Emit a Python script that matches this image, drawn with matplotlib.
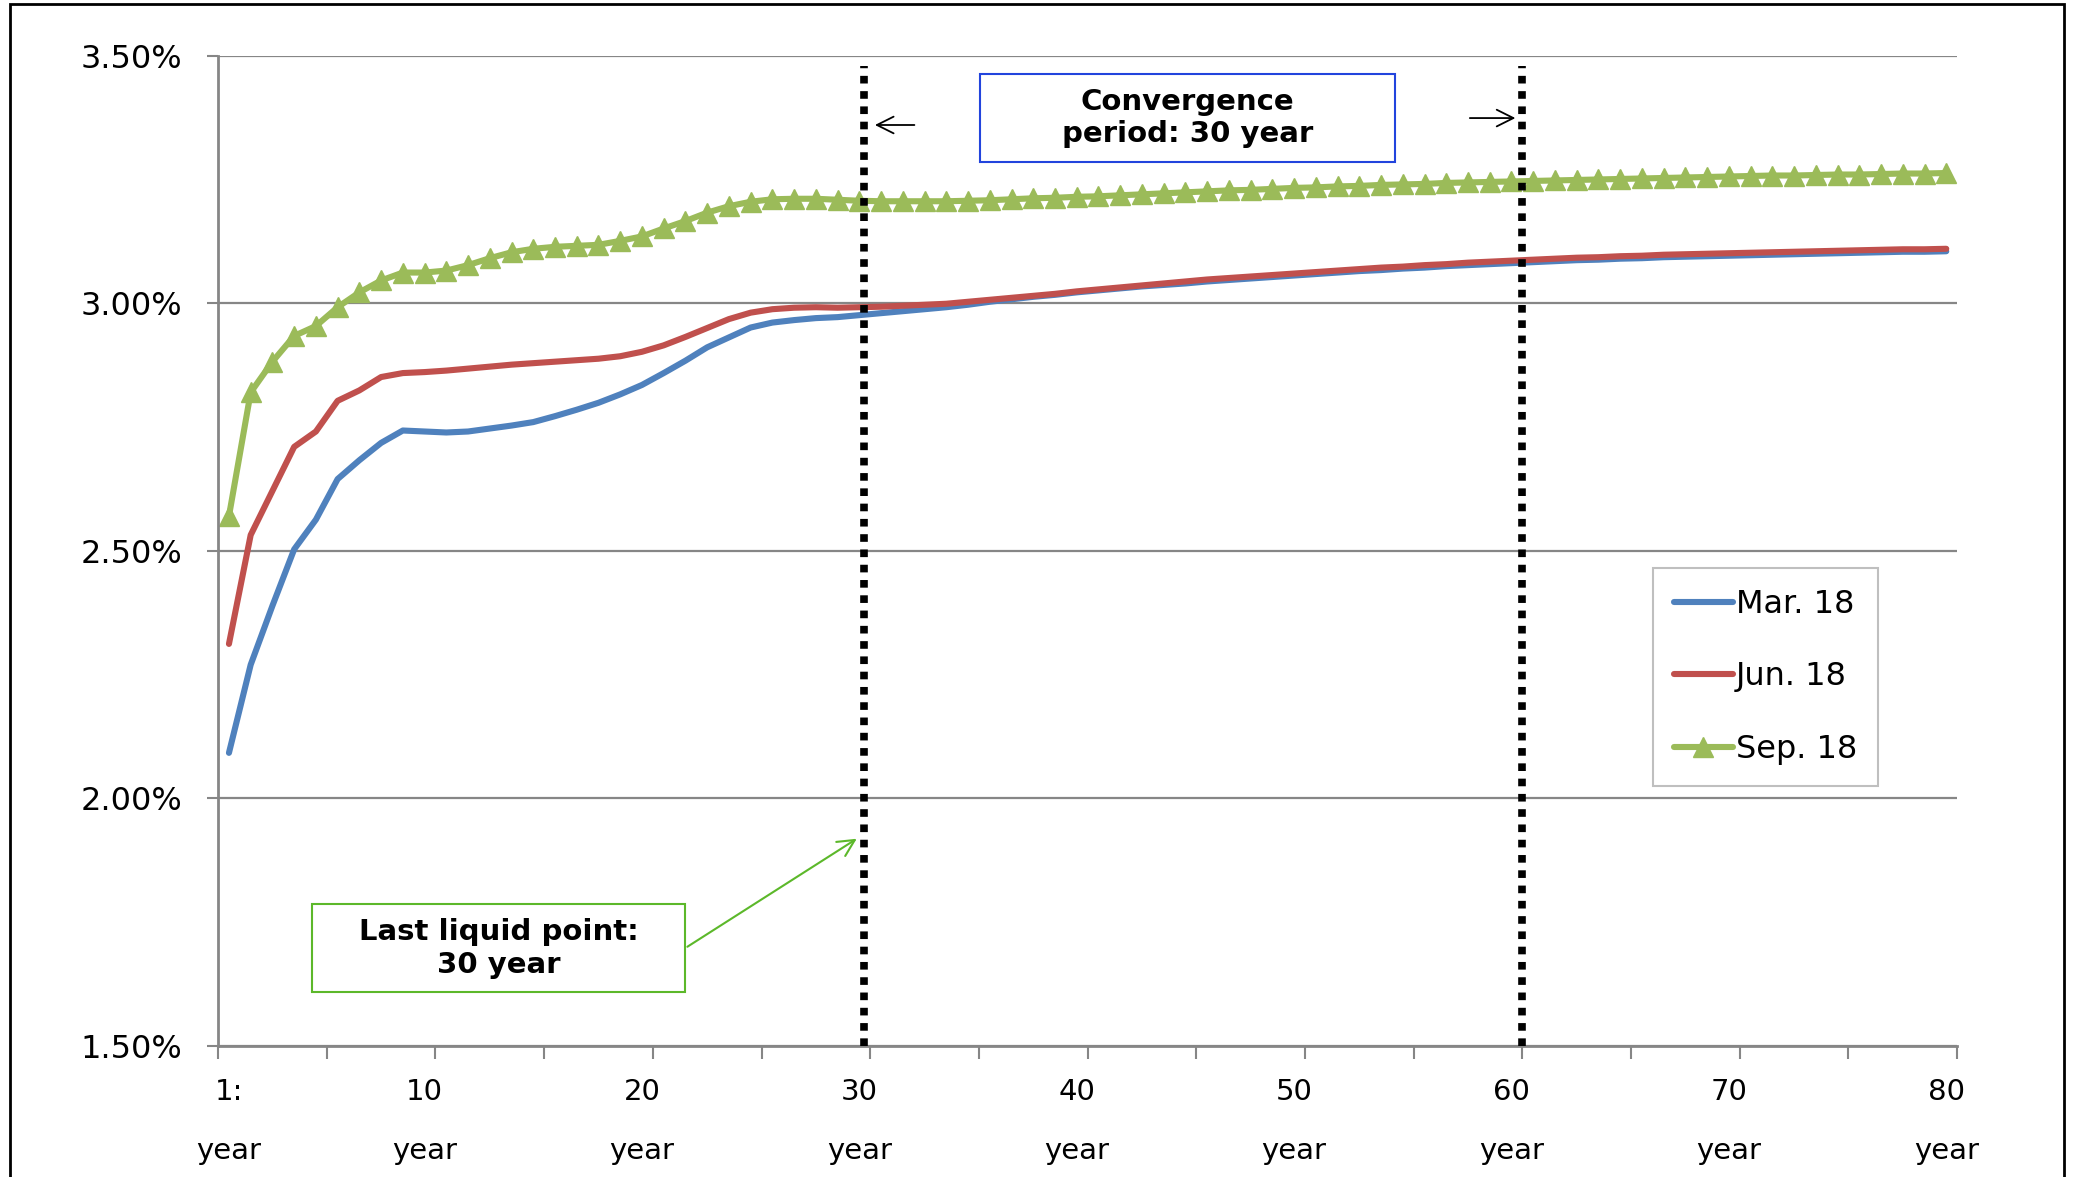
import numpy as np
import matplotlib.pyplot as plt
from matplotlib.patches import Rectangle
from matplotlib.ticker import FuncFormatter

plt.rcParams['font.family'] = ['DejaVu Sans']

# data (yield curve, %), years 1..80
years = list(range(1, 81))
mar18 = [2.092, 2.270, 2.389, 2.503, 2.563, 2.645, 2.683, 2.718, 2.743, 2.741,
         2.739, 2.741, 2.747, 2.753, 2.760, 2.772, 2.785, 2.799, 2.816, 2.835,
         2.859, 2.884, 2.911, 2.931, 2.951, 2.961, 2.966, 2.970, 2.972, 2.976,
         2.980, 2.984, 2.988, 2.992, 2.997, 3.003, 3.008, 3.013, 3.017, 3.022,
         3.026, 3.030, 3.034, 3.037, 3.040, 3.044, 3.047, 3.050, 3.053, 3.056,
         3.059, 3.062, 3.065, 3.067, 3.070, 3.072, 3.075, 3.077, 3.079, 3.081,
         3.083, 3.085, 3.087, 3.088, 3.090, 3.091, 3.093, 3.094, 3.095, 3.096,
         3.097, 3.098, 3.099, 3.100, 3.101, 3.102, 3.103, 3.104, 3.104, 3.105]
jun18 = [2.312, 2.532, 2.621, 2.710, 2.741, 2.803, 2.824, 2.851, 2.859, 2.861,
         2.864, 2.868, 2.872, 2.876, 2.879, 2.882, 2.885, 2.888, 2.893, 2.902,
         2.915, 2.932, 2.950, 2.968, 2.981, 2.988, 2.991, 2.992, 2.991, 2.992,
         2.993, 2.995, 2.997, 2.999, 3.003, 3.007, 3.011, 3.015, 3.019, 3.024,
         3.028, 3.032, 3.036, 3.040, 3.044, 3.048, 3.051, 3.054, 3.057, 3.060,
         3.063, 3.066, 3.069, 3.072, 3.074, 3.077, 3.079, 3.082, 3.084, 3.086,
         3.088, 3.090, 3.092, 3.093, 3.095, 3.096, 3.098, 3.099, 3.100, 3.101,
         3.102, 3.103, 3.104, 3.105, 3.106, 3.107, 3.108, 3.109, 3.109, 3.110]
sep18 = [2.570, 2.820, 2.882, 2.934, 2.954, 2.992, 3.022, 3.046, 3.062, 3.062,
         3.066, 3.077, 3.091, 3.103, 3.110, 3.114, 3.116, 3.118, 3.126, 3.135,
         3.151, 3.166, 3.183, 3.196, 3.205, 3.210, 3.211, 3.211, 3.209, 3.207,
         3.206, 3.206, 3.206, 3.206, 3.207, 3.208, 3.210, 3.212, 3.213, 3.215,
         3.216, 3.218, 3.220, 3.222, 3.224, 3.226, 3.228, 3.229, 3.231, 3.233,
         3.234, 3.236, 3.237, 3.239, 3.240, 3.241, 3.243, 3.244, 3.245, 3.246,
         3.247, 3.248, 3.249, 3.250, 3.251, 3.252, 3.253, 3.254, 3.255, 3.256,
         3.257, 3.258, 3.258, 3.259, 3.260, 3.260, 3.261, 3.262, 3.262, 3.263]
series_names = ['Mar. 18', 'Jun. 18', 'Sep. 18']
label_years = [1, 10, 20, 30, 40, 50, 60, 70, 80]
x_labels = ['1:', '10', '20', '30', '40', '50', '60', '70', '80']
y_ticks = [1.5, 2.0, 2.5, 3.0, 3.5]
llp_year = 30.2      # last liquid point marker line
conv_end_year = 60.5  # end of convergence period

grey = '#868686'

fig = plt.figure(figsize=(20.73, 11.77), dpi=100)
ax = fig.add_axes([0.1052, 0.1113, 0.8389, 0.8414])

ax.plot(years, mar18, color='#4F81BD', lw=4.4, solid_capstyle='round', label=series_names[0])
ax.plot(years, jun18, color='#C0504D', lw=4.4, solid_capstyle='round', label=series_names[1])
ax.plot(years, sep18, color='#9BBB59', lw=4.4, marker='^', ms=15, mec='#9BBB59',
        solid_capstyle='round', label=series_names[2])

ax.set_xlim(0.5, 80.5)
ax.set_ylim(1.5, 3.5)

# y axis
ax.set_yticks(y_ticks)
ax.yaxis.set_major_formatter(FuncFormatter(lambda v, p: '%.2f%%' % v))
ax.yaxis.grid(True, color=grey, lw=1.6)
ax.set_axisbelow(True)
ax.tick_params(axis='y', length=8, width=1.5, color=grey, pad=18, labelsize=23)

# x axis: category ticks every 5 years, labels every 10
ax.set_xticks(np.arange(0.5, 81, 5))
ax.tick_params(axis='x', which='major', length=9, width=1.5, color=grey, labelbottom=False)
ax.set_xticks(label_years, minor=True)
ax.set_xticklabels([l + '\nyear' for l in x_labels], minor=True, linespacing=2.4)
ax.tick_params(axis='x', which='minor', length=0, pad=23, labelsize=21)

for s in ['top', 'right']:
    ax.spines[s].set_visible(False)
for s in ['left', 'bottom']:
    ax.spines[s].set_color(grey)
    ax.spines[s].set_linewidth(2)

# dotted markers at 30y and 60y
ax.vlines([llp_year, conv_end_year], 1.5, 3.48, colors='k', lw=5.5,
          linestyles=(0, (1, 1)), zorder=5)

# legend
leg = ax.legend(loc='upper left', bbox_to_anchor=(0.825, 0.4825), borderaxespad=0,
                fontsize=23, fancybox=False, edgecolor='#BFBFBF', framealpha=1,
                handlelength=1.85, handletextpad=0.1, labelspacing=1.3, borderpad=0.65)
leg.get_frame().set_linewidth(1.5)

# convergence period box
ax.add_patch(Rectangle((0.438, 0.8926), 0.239, 0.0889, transform=ax.transAxes,
                       fc='white', ec='#2244DD', lw=1.5, zorder=6))
ax.text(0.438 + 0.239 / 2, 0.8926 + 0.0889 / 2, 'Convergence\nperiod: 30 year',
        transform=ax.transAxes, ha='center', va='center', fontsize=21,
        fontweight='bold', zorder=7)
ax.annotate('', xy=(0.3761, 0.930), xytext=(0.4020, 0.930), xycoords='axes fraction',
            arrowprops=dict(arrowstyle='->', color='k', lw=1.3, mutation_scale=30))
ax.annotate('', xy=(0.7476, 0.937), xytext=(0.7182, 0.937), xycoords='axes fraction',
            arrowprops=dict(arrowstyle='->', color='k', lw=1.3, mutation_scale=30))

# last liquid point box
ax.add_patch(Rectangle((0.054, 0.0542), 0.2145, 0.0889, transform=ax.transAxes,
                       fc='white', ec='#5CB82A', lw=1.5, zorder=6))
ax.text(0.054 + 0.2145 / 2, 0.0542 + 0.0889 / 2, 'Last liquid point:\n30 year',
        transform=ax.transAxes, ha='center', va='center', fontsize=21,
        fontweight='bold', zorder=7)
ax.annotate('', xy=(0.3686, 0.2108), xytext=(0.2685, 0.0987), xycoords='axes fraction',
            arrowprops=dict(arrowstyle='->', color='#5CB82A', lw=1.5, mutation_scale=30))

# chart border
fig.patches.append(Rectangle((0.0048, -0.05), 0.9909, 1.0466, transform=fig.transFigure,
                             fill=False, ec='black', lw=2))

fig.savefig('out.png', dpi=100)
